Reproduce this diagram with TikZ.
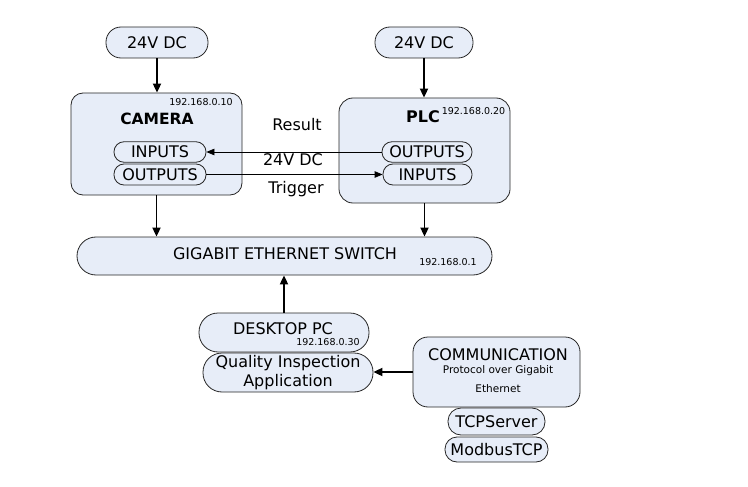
\documentclass[tikz,border=0pt]{standalone}
\usepackage{fontspec}
\setmainfont{DejaVu Sans}
\usepackage{tikz}
\usetikzlibrary{arrows.meta}
\definecolor{boxfill}{RGB}{231,237,248}

\begin{document}
\begin{tikzpicture}[x=1pt,y=-1pt,
    font=\fontsize{16}{19}\selectfont,inner sep=0pt,
    boxn/.style={draw=black!85,fill=boxfill,line width=0.8pt},
    ipn/.style={font=\fontsize{9.5}{11}\selectfont},
    smalln/.style={font=\fontsize{10.5}{12}\selectfont},
    wire/.style={line width=0.8pt,-{Triangle[length=8pt,width=6.5pt]}},
    bus/.style={line width=1.8pt,-{Triangle[length=9pt,width=8pt]}}]
  \useasboundingbox (0,0) rectangle (748,487);
  % power supplies
  \node[boxn,minimum width=102,minimum height=31,rounded corners=15] (pwrA) at (157,42.5) {24V DC};
  \node[boxn,minimum width=98,minimum height=31,rounded corners=15] (pwrB) at (424,42.5) {24V DC};
  % camera
  \node[boxn,minimum width=171,minimum height=102,rounded corners=12] (cam) at (156.5,144) {};
  \node[font=\fontsize{15.5}{18}\selectfont\bfseries] (camT) at (157,119) {CAMERA};
  \node[ipn] (camIP) at (201,102) {192.168.0.10};
  \node[boxn,minimum width=92,minimum height=20.5,rounded corners=10] (camIn) at (160,152) {INPUTS};
  \node[boxn,minimum width=92,minimum height=21,rounded corners=10] (camOut) at (160,174.5) {OUTPUTS};
  % plc
  \node[boxn,minimum width=171,minimum height=105,rounded corners=14] (plc) at (424.5,150.5) {};
  \node[font=\fontsize{16}{18}\selectfont\bfseries] (plcT) at (423,117) {PLC};
  \node[ipn] (plcIP) at (473.5,111) {192.168.0.20};
  \node[boxn,minimum width=90,minimum height=20.5,rounded corners=10] (plcOut) at (427,152) {OUTPUTS};
  \node[boxn,minimum width=89,minimum height=21,rounded corners=10] (plcIn) at (427.5,174.5) {INPUTS};
  % signal labels
  \node (res) at (297,125) {Result};
  \node (volt) at (293,160) {24V DC};
  \node (trig) at (296,189) {Trigger};
  % switch
  \node[boxn,minimum width=415,minimum height=38,rounded corners=19] (sw) at (284.5,256) {};
  \node (swT) at (285,254) {GIGABIT ETHERNET SWITCH};
  \node[ipn] (swIP) at (448,262) {192.168.0.1};
  % desktop pc
  \node[boxn,minimum width=170,minimum height=39,rounded corners=19] (pc) at (284,332.5) {};
  \node (pcT) at (283,329) {DESKTOP PC};
  \node[ipn] (pcIP) at (328,342) {192.168.0.30};
  \node[boxn,minimum width=170,minimum height=39,rounded corners=19,align=center,
    font=\fontsize{16}{19.5}\selectfont] (app) at (288,372.5) {Quality Inspection\\Application};
  % communication
  \node[boxn,minimum width=167,minimum height=70,rounded corners=15] (comm) at (496.5,372) {};
  \node (commT) at (498,355) {COMMUNICATION};
  \node[smalln] (commA) at (498,371) {Protocol over Gigabit};
  \node[smalln] (commB) at (498,389) {Ethernet};
  \node[boxn,minimum width=97,minimum height=27,rounded corners=13] (tcp) at (496.5,421.5) {TCPServer};
  \node[boxn,minimum width=103,minimum height=25,rounded corners=12] (mod) at (496.5,449.5) {ModbusTCP};
  % connectors
  \draw[bus] (pwrA.south) -- (pwrA.south |- cam.north);
  \draw[bus] (pwrB.south) -- (pwrB.south |- plc.north);
  \draw[wire] (plcOut.west) -- (plcOut.west -| camIn.east);
  \draw[wire] (camOut.east) -- (camOut.east -| plcIn.west);
  \draw[bus] (cam.south) -- (cam.south |- sw.north);
  \draw[bus] (plc.south) -- (plc.south |- sw.north);
  \draw[bus] (pc.north) -- (pc.north |- sw.south);
  \draw[bus] (comm.west) -- (comm.west -| app.east);
\end{tikzpicture}
\end{document}
